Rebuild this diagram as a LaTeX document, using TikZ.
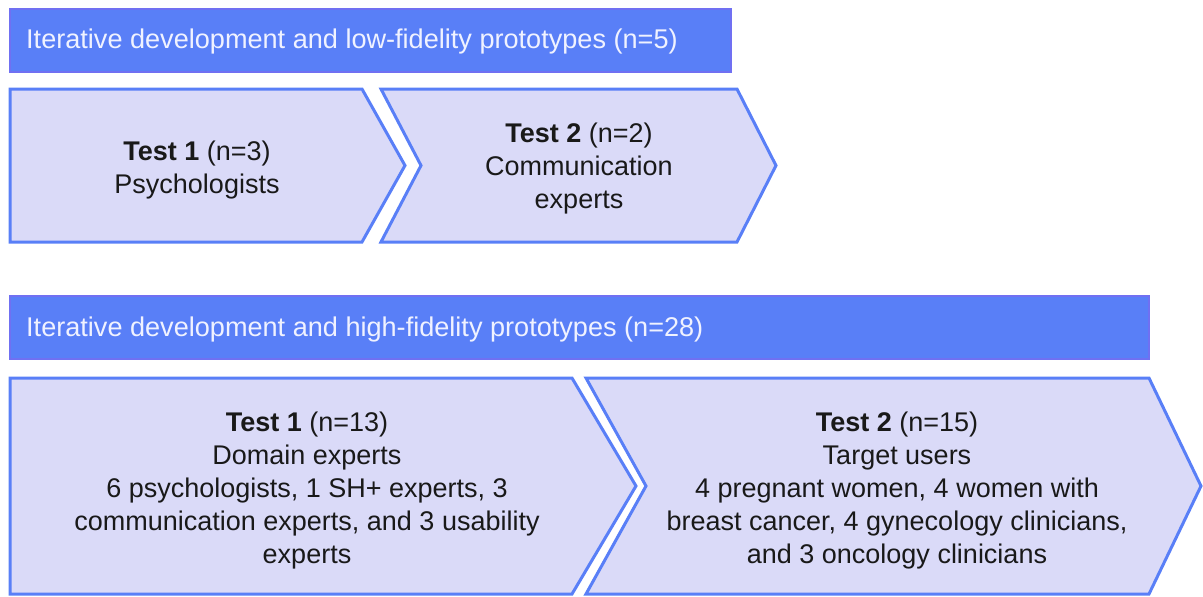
\documentclass[tikz,border=0pt]{standalone}
\usepackage{fontspec}
\setmainfont{Liberation Sans}
\definecolor{bannerfill}{RGB}{89,127,247}
\definecolor{bannerdraw}{RGB}{112,112,242}
\definecolor{bannertext}{RGB}{240,242,255}
\definecolor{chevfill}{RGB}{218,218,248}
\definecolor{chevdraw}{RGB}{89,127,247}
\definecolor{bodytext}{RGB}{25,25,25}
\tikzset{
  banner/.style={fill=bannerfill, draw=bannerdraw, line width=1.5pt},
  chev/.style={fill=chevfill, draw=chevdraw, line width=3pt, line join=miter},
  bannerlabel/.style={anchor=base west, inner sep=0pt, text=bannertext, font=\fontsize{27.1}{32.8}\selectfont},
  chevlabel/.style={anchor=base, inner sep=0pt, align=center, text=bodytext, font=\fontsize{27}{32.8}\selectfont},
}
\begin{document}
\begin{tikzpicture}[x=1pt, y=-1pt]
\useasboundingbox (0,0) rectangle (1203,597);
% banners
\draw[banner] (10,9) rectangle (731,72);
\node[bannerlabel] (b1) at (26,48) {Iterative development and low-fidelity prototypes (n=5)};
\draw[banner] (10,296) rectangle (1149,359);
\node[bannerlabel] (b2) at (26,336) {Iterative development and high-fidelity prototypes (n=28)};
% top chevrons
\draw[chev] (10,89) -- (362,89) -- (405,165.5) -- (362,242) -- (10,242) -- cycle;
\draw[chev] (381,89) -- (737,89) -- (776,165.5) -- (737,242) -- (381,242) -- (421,165.5) -- cycle;
\node[chevlabel] (t1) at (197,193) {\textbf{Test 1} (n=3)\\Psychologists};
\node[chevlabel] (t2) at (579,208) {\textbf{Test 2} (n=2)\\Communication\\experts};
% bottom chevrons
\draw[chev] (10,378) -- (572,378) -- (636,486) -- (572,594) -- (10,594) -- cycle;
\draw[chev] (586,378) -- (1149,378) -- (1201,486) -- (1149,594) -- (586,594) -- (646,486) -- cycle;
\node[chevlabel] (h1) at (307,563) {\textbf{Test 1} (n=13)\\Domain experts\\6 psychologists, 1 SH+ experts, 3\\communication experts, and 3 usability\\experts};
\node[chevlabel] (h2) at (897,563) {\textbf{Test 2} (n=15)\\Target users\\4 pregnant women, 4 women with\\breast cancer, 4 gynecology clinicians,\\and 3 oncology clinicians};
\end{tikzpicture}
\end{document}
